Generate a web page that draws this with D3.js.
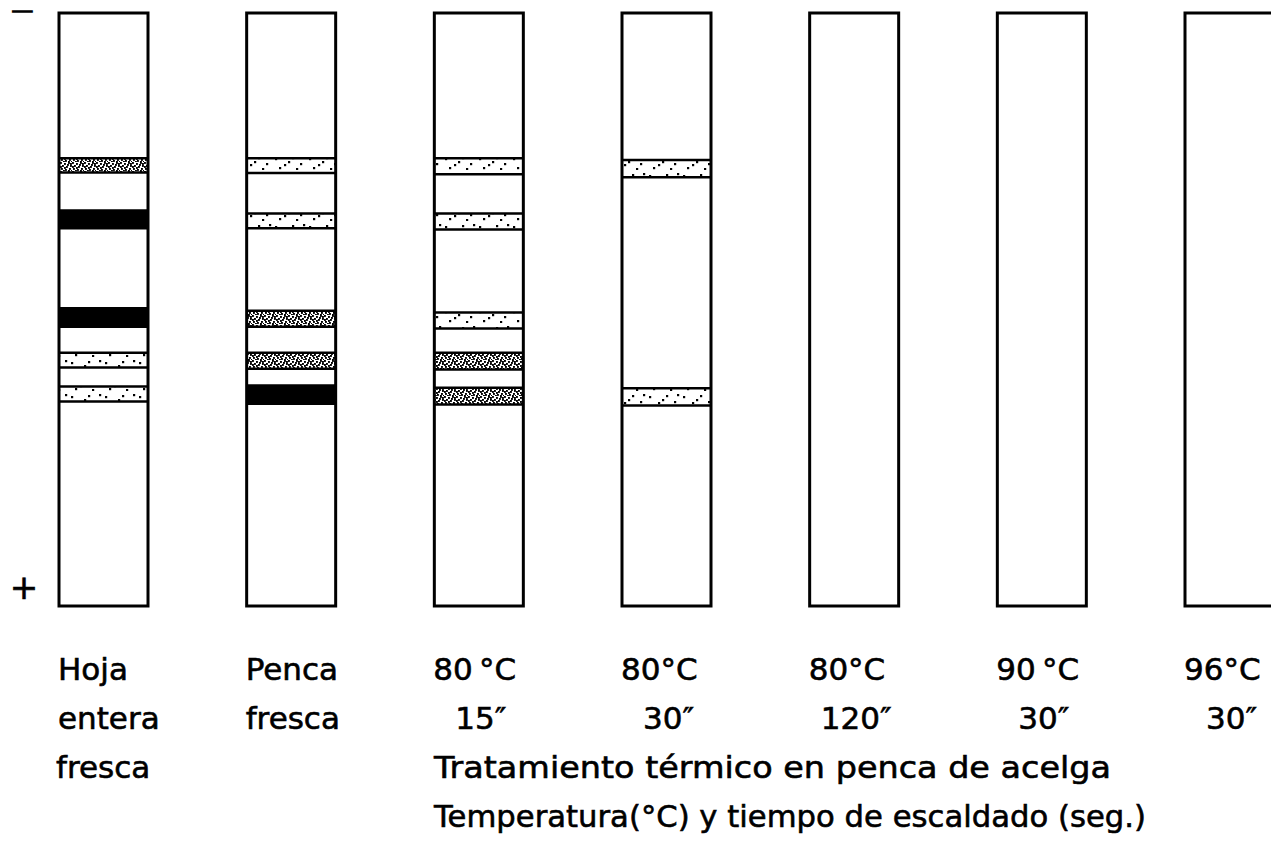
<!DOCTYPE html>
<html>
<head>
<meta charset="utf-8">
<script src="https://cdn.jsdelivr.net/npm/d3@7"></script>
<style>
  html, body { margin: 0; padding: 0; background: #fff; }
  svg { display: block; }
  text { font-family: "DejaVu Sans", sans-serif; fill: #000; stroke: #000; stroke-width: 0.6px; }
</style>
</head>
<body>
<svg id="chart" width="1271" height="843"></svg>
<script>
// ---- data ----
const laneIds = [0, 1, 2, 3, 4, 5, 6];
const labelLine1 = ["Hoja", "Penca", "80\u2009°C", "80°C", "80°C", "90\u2009°C", "96°C"];
const labelLine2 = ["entera", "fresca", "15\u2033", "30\u2033", "120\u2033", "30\u2033", "30\u2033"];
const labelLine3 = ["fresca", "", "", "", "", "", ""];
const treatmentTitle = ["Tratamiento térmico en penca de acelga",
                        "Temperatura(°C) y tiempo de escaldado (seg.)"];
const poleLabels = ["\u2212", "+"];

// bands: lane, relative mobility start / end (0 = top "−", 1 = bottom "+"), type
const bands = [
  {lane: 0, from: 0.245, to: 0.269, type: "dense"},
  {lane: 0, from: 0.333, to: 0.363, type: "black"},
  {lane: 0, from: 0.498, to: 0.529, type: "black"},
  {lane: 0, from: 0.573, to: 0.598, type: "light"},
  {lane: 0, from: 0.630, to: 0.655, type: "light"},

  {lane: 1, from: 0.245, to: 0.270, type: "light"},
  {lane: 1, from: 0.338, to: 0.363, type: "light"},
  {lane: 1, from: 0.502, to: 0.529, type: "dense"},
  {lane: 1, from: 0.573, to: 0.600, type: "dense"},
  {lane: 1, from: 0.628, to: 0.659, type: "black"},

  {lane: 2, from: 0.245, to: 0.272, type: "light"},
  {lane: 2, from: 0.338, to: 0.365, type: "light"},
  {lane: 2, from: 0.505, to: 0.532, type: "light"},
  {lane: 2, from: 0.573, to: 0.601, type: "dense"},
  {lane: 2, from: 0.632, to: 0.660, type: "dense"},

  {lane: 3, from: 0.248, to: 0.277, type: "light"},
  {lane: 3, from: 0.633, to: 0.662, type: "light"}
];

// ---- layout ----
const svg = d3.select("#chart");
const laneW = 89;
const x = d3.scaleLinear().domain([0, 6]).range([59, 1185]);
const y = d3.scaleLinear().domain([0, 1]).range([13, 606]);

// patterns
const defs = svg.append("defs");
const light = defs.append("pattern").attr("id", "light")
  .attr("patternUnits", "userSpaceOnUse").attr("width", 34).attr("height", 17);
light.append("rect").attr("width", 34).attr("height", 17).attr("fill", "#fff");
[[3,5],[12,11],[20,4],[28,10],[7,14],[24,15],[16,8],[31,3]].forEach(p =>
  light.append("rect").attr("x", p[0]).attr("y", p[1]).attr("width", 2.2).attr("height", 2.2).attr("fill", "#000"));

const dense = defs.append("pattern").attr("id", "dense")
  .attr("patternUnits", "userSpaceOnUse").attr("width", 12).attr("height", 9);
dense.append("rect").attr("width", 12).attr("height", 9).attr("fill", "#fff");
[[0,0],[4,1],[8,0],[2,3],[6,4],[10,3],[1,6],[5,7],[9,6],[3,8],[7,2],[11,8],[0,4],[4,5],[8,8],[10,1]].forEach(p =>
  dense.append("rect").attr("x", p[0]).attr("y", p[1]).attr("width", 1.9).attr("height", 1.9).attr("fill", "#000"));

const fillFor = t => t === "black" ? "#000" : (t === "dense" ? "url(#dense)" : "url(#light)");

// bands
const g = svg.append("g");
const bandSel = g.selectAll("g.band").data(bands).join("g").attr("class", "band");
bandSel.append("rect")
  .attr("x", d => x(d.lane))
  .attr("y", d => y(d.from))
  .attr("width", laneW)
  .attr("height", d => y(d.to) - y(d.from))
  .attr("fill", d => fillFor(d.type));
bandSel.append("line")
  .attr("x1", d => x(d.lane)).attr("x2", d => x(d.lane) + laneW)
  .attr("y1", d => y(d.from)).attr("y2", d => y(d.from))
  .attr("stroke", "#000").attr("stroke-width", 2.5);
bandSel.append("line")
  .attr("x1", d => x(d.lane)).attr("x2", d => x(d.lane) + laneW)
  .attr("y1", d => y(d.to)).attr("y2", d => y(d.to))
  .attr("stroke", "#000").attr("stroke-width", 2.5);

// lanes
g.selectAll("rect.lane").data(laneIds).join("rect").attr("class", "lane")
  .attr("x", d => x(d)).attr("y", y(0))
  .attr("width", laneW).attr("height", y(1) - y(0))
  .attr("fill", "none").attr("stroke", "#000").attr("stroke-width", 3);

// pole signs (minus drawn small and stretched so that its box stays inside the page)
svg.append("text").attr("transform", "translate(22,15) scale(2.3,1)")
  .attr("text-anchor", "middle").attr("font-size", 12)
  .style("stroke-width", "1.6px").text(poleLabels[0]);
svg.append("text").attr("x", 24).attr("y", 599).attr("text-anchor", "middle")
  .attr("font-size", 34).text(poleLabels[1]);

// lane labels
const fs = 31;
const rowY = [680, 729, 778, 827];
svg.selectAll("text.l1").data(laneIds).join("text").attr("class", "l1")
  .attr("x", d => x(d) - 1).attr("y", rowY[0]).attr("font-size", fs)
  .text(d => labelLine1[d]);
svg.selectAll("text.l2").data(laneIds).join("text").attr("class", "l2")
  .attr("x", d => d < 2 ? x(d) - 1 : x(d) + laneW / 2 + 2)
  .attr("text-anchor", d => d < 2 ? "start" : "middle")
  .attr("y", rowY[1]).attr("font-size", fs)
  .text(d => labelLine2[d]);
svg.selectAll("text.l3").data(laneIds.filter(d => labelLine3[d])).join("text").attr("class", "l3")
  .attr("x", d => x(d) - 3).attr("y", rowY[2]).attr("font-size", fs)
  .text(d => labelLine3[d]);

// treatment title
const titleLen = [677, 712];
svg.selectAll("text.tt").data(treatmentTitle).join("text").attr("class", "tt")
  .attr("x", 434).attr("y", (d, i) => rowY[2 + i]).attr("font-size", fs)
  .attr("textLength", (d, i) => titleLen[i]).attr("lengthAdjust", "spacingAndGlyphs")
  .text(d => d);
</script>
</body>
</html>
